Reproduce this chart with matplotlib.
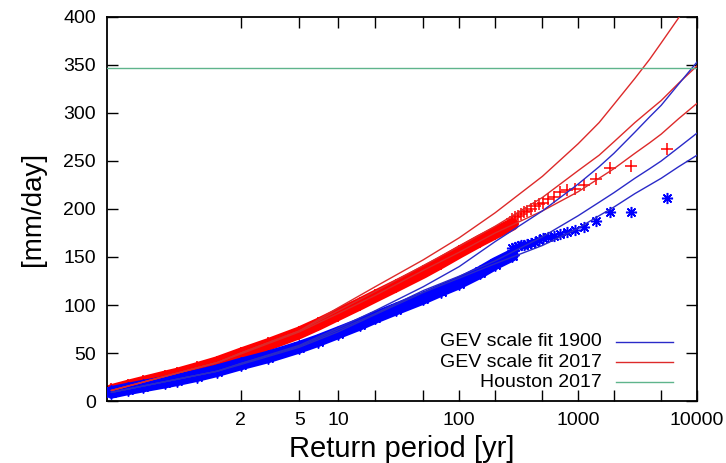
import numpy as np
import matplotlib
matplotlib.use('Agg')
import matplotlib.pyplot as plt

plt.rcParams['font.family'] = ['Liberation Sans', 'DejaVu Sans']

# ensemble size, used for plotting positions of the largest values
n_ens = 5600

# dense part of the empirical distribution: (return period, value)
body_rp = [1.0002, 1.002, 1.01, 1.05, 1.1, 1.25, 1.5, 2, 3, 5, 7, 10, 15, 20,
           30, 50, 70, 100, 150, 200, 280]
body_2017 = [11, 15.5, 19.5, 25, 28, 34, 40, 49, 59, 71, 80, 90, 101, 109,
             120, 134, 144, 155, 167, 175, 184]
body_1900 = [9, 12.5, 15.5, 19.5, 22, 26.5, 31.5, 38.5, 46, 56, 63, 71, 80, 87,
             96, 107, 115, 123, 134, 143, 152]

# largest values, sorted by rank
tail_2017 = [262, 245, 243, 231, 225, 221, 220, 218, 213, 210,
             206, 205, 203, 200, 198, 197, 195, 193, 192, 190]
tail_1900 = [211, 197, 197, 187, 181, 178, 176, 174, 172, 171,
             170, 168, 166, 165, 164, 163, 162, 161, 160, 159]

# GEV fits: central estimate and bounds
fit_rp = [1.0002, 1.5, 2, 5, 10, 20, 50, 100, 200, 500, 1000, 1500, 2000,
          3000, 4000, 5000, 7000, 10000]
fit_2017_hi = [11, 40, 50, 73, 97, 119, 147, 170, 196, 234, 268, 290, 309,
               336, 356, 373, 399, 425]
fit_2017_mid = [11, 40, 50, 73, 94, 114, 141, 161, 182, 212, 240, 256, 270,
                290, 303, 313, 331, 349]
fit_2017_lo = [11, 40, 49, 72, 91, 110, 136, 155, 175, 198, 218, 232, 242,
               258, 269, 278, 294, 310]
fit_1900_hi = [9, 31, 39, 58, 76, 94, 119, 140, 166, 198, 226, 244, 258,
               280, 296, 308, 330, 353]
fit_1900_mid = [9, 31, 39, 57, 74, 91, 115, 130, 146, 171, 193, 207, 217,
                232, 242, 250, 264, 279]
fit_1900_lo = [9, 31, 38, 56, 72, 90, 113, 128, 143, 162, 180, 193, 202,
               216, 225, 232, 244, 256]

houston_2017 = 347

x_ticks = [2, 5, 10, 100, 1000, 10000]
x_minor = [20, 50, 200, 500, 2000, 5000]


def gumbel(t):
    t = np.asarray(t, dtype=float)
    with np.errstate(all='ignore'):
        return -np.log(-np.log(1.0 - 1.0 / t))


def gumbel_inv(g):
    g = np.asarray(g, dtype=float)
    with np.errstate(all='ignore'):
        return 1.0 / (1.0 - np.exp(-np.exp(-g)))


red_pt = '#ff0000'
blue_pt = '#0000ff'
red_ln = '#dd2a2a'
blue_ln = '#2a2ac8'
green_ln = '#5fb48c'

fig = plt.figure(figsize=(7.26, 4.63), dpi=100)
ax = fig.add_axes([0.1474, 0.1339, 0.8126, 0.8294])
ax.set_xscale('function', functions=(gumbel, gumbel_inv))

rank = np.arange(1, len(tail_2017) + 1)
tail_rp = (n_ens + 1) / rank

# empirical points: dense band plus the individual largest values
ax.plot(body_rp, body_2017, color=red_pt, lw=9, solid_capstyle='round', zorder=2)
ax.plot(body_rp, body_2017, '+', color=red_pt, ms=10, mew=1.2, zorder=2)
ax.plot(tail_rp, tail_2017, '+', color=red_pt, ms=8, mew=1.1, zorder=2)
ax.plot(body_rp, body_1900, color=blue_pt, lw=9, solid_capstyle='round', zorder=3)
ax.plot(body_rp, body_1900, marker=(8, 2, 0), ls='none', color=blue_pt, ms=10, mew=1.1, zorder=3)
ax.plot(tail_rp, tail_1900, marker=(8, 2, 0), ls='none', color=blue_pt, ms=8, mew=1.1, zorder=3)

for vals in (fit_2017_hi, fit_2017_mid, fit_2017_lo):
    ax.plot(fit_rp, vals, color=red_ln, lw=1.0, zorder=4)
for vals in (fit_1900_hi, fit_1900_mid, fit_1900_lo):
    ax.plot(fit_rp, vals, color=blue_ln, lw=1.0, zorder=4)
ax.axhline(houston_2017, color=green_ln, lw=1.0, zorder=4)

ax.set_xlim(1.000093, 10000)
ax.set_ylim(0, 400)
ax.set_yticks(np.arange(0, 401, 50))
ax.set_xticks(x_ticks + x_minor)
ax.set_xticklabels([str(t) for t in x_ticks] + [''] * len(x_minor))
ax.xaxis.set_minor_locator(matplotlib.ticker.NullLocator())
ax.tick_params(direction='in', length=8, width=1.0, top=True, right=True,
               labelsize=14, pad=8)
for s in ax.spines.values():
    s.set_linewidth(1.3)

ax.set_xlabel('Return period [yr]', fontsize=21, labelpad=4)
ax.set_ylabel('[mm/day]', fontsize=20, labelpad=12)

# legend drawn gnuplot style: right-aligned text, sample line on the right
entries = [('GEV scale fit 1900', blue_ln), ('GEV scale fit 2017', red_ln),
           ('Houston 2017', green_ln)]
for i, (lab, col) in enumerate(entries):
    y = 0.154 - i * 0.0525
    ax.text(0.839, y, lab, transform=ax.transAxes, ha='right', va='center', fontsize=14)
    ax.plot([0.863, 0.959], [y, y], color=col, lw=1.0, transform=ax.transAxes)

fig.savefig('out.png', dpi=100)
